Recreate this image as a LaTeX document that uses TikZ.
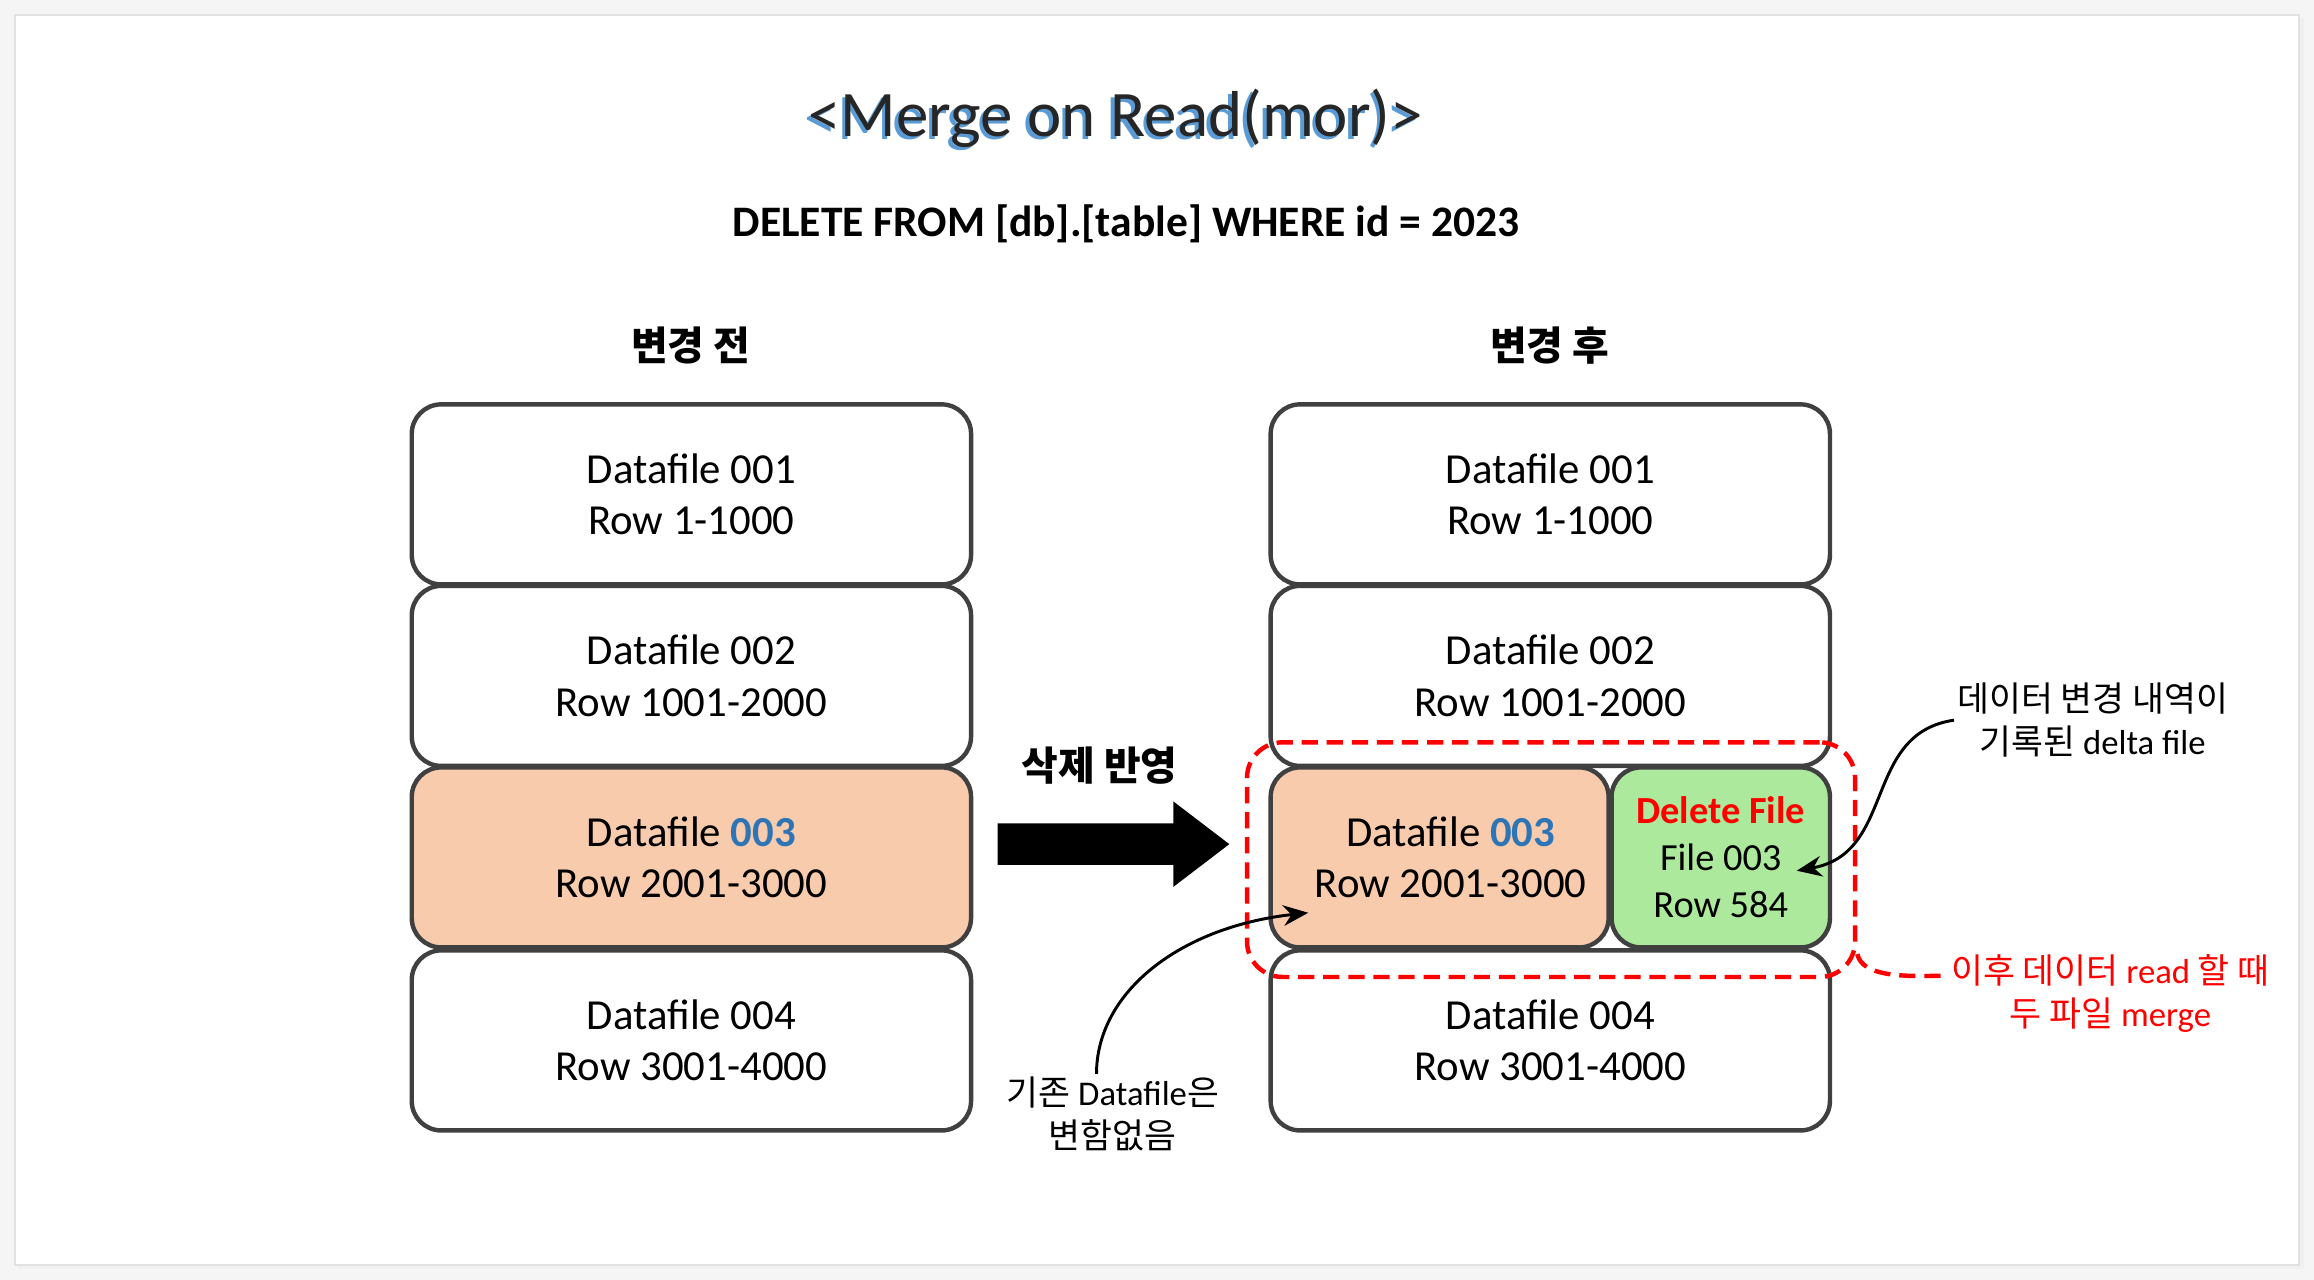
\documentclass[tikz,border=0pt]{standalone}
\usepackage{fontspec}
\setmainfont{Carlito}
\newfontfamily\kr{Noto Sans CJK KR}
\usetikzlibrary{arrows.meta}
\definecolor{boxgray}{HTML}{404040}
\definecolor{peach}{HTML}{F8CBAD}
\definecolor{dgreen}{HTML}{ADE99C}
\definecolor{fblue}{HTML}{2E75B6}
\definecolor{tshadow}{HTML}{5B9BD5}
\definecolor{titlegray}{HTML}{262626}
\definecolor{bgout}{HTML}{F5F5F5}
\definecolor{frameline}{HTML}{E2E2E2}
\begin{document}
\begin{tikzpicture}[x=1pt,y=-1pt,
  dbox/.style={draw=boxgray,line width=3pt,rounded corners=20pt,minimum width=379pt,minimum height=122pt,inner sep=0pt,align=center,font=\fontsize{29}{35}\selectfont},
  boxtext/.style={align=center,inner sep=0pt,font=\fontsize{29}{35}\selectfont},
  head/.style={font=\kr\bfseries\fontsize{27}{30}\selectfont},
  note/.style={align=center,inner sep=2pt,font=\fontsize{23.5}{29}\selectfont},
  conn/.style={line width=2pt,-{Stealth[length=17pt,width=14pt]}},
  titlefont/.style={font=\fontsize{44}{50}\selectfont}]
\fill[bgout] (0,0) rectangle (1568,867);
\useasboundingbox (0,0) rectangle (1568,867);
\fill[black!6] (12,12) rectangle (1561,860);
\filldraw[fill=white,draw=frameline,line width=1.2pt] (10,10) rectangle (1558,857);
% title
\node[titlefont,text=tshadow] at (753.5,82) {<Merge on Read(mor)>};
\node (title) [titlefont,text=titlegray] at (756,80) {<Merge on Read(mor)>};
\node (sql) [font=\bfseries\fontsize{29.5}{35}\selectfont] at (763,152) {DELETE FROM [db].[table] WHERE id = 2023};
\node (hl) [head] at (468,234) {변경 전};
\node (hr) [head] at (1050,234) {변경 후};
% left stack
\node (L1) [dbox,fill=white] at (468.5,335) {Datafile 001\\Row 1-1000};
\node (L2) [dbox,fill=white] at (468.5,458) {Datafile 002\\Row 1001-2000};
\node (L3) [dbox,fill=peach] at (468.5,581) {Datafile {\bfseries\color{fblue}003}\\Row 2001-3000};
\node (L4) [dbox,fill=white] at (468.5,705) {Datafile 004\\Row 3001-4000};
% right stack
\node (R1) [dbox,fill=white] at (1050.5,335) {Datafile 001\\Row 1-1000};
\node (R2) [dbox,fill=white] at (1050.5,458) {Datafile 002\\Row 1001-2000};
\node (R3) [dbox,fill=peach,minimum width=229pt] at (975.5,581) {};
\node (R3t) [boxtext] at (983,581) {Datafile {\bfseries\color{fblue}003}\\Row 2001-3000};
\node (GR) [dbox,fill=dgreen,minimum width=148pt,font=\fontsize{26}{32}\selectfont] at (1166,581) {{\bfseries\color{red}Delete File}\\File 003\\Row 584};
\node (R4) [dbox,fill=white] at (1050.5,705) {Datafile 004\\Row 3001-4000};
% dashed group
\node (grp) [draw=red,line width=3pt,dash pattern=on 11pt off 6pt,rounded corners=24pt,minimum width=412pt,minimum height=159pt,inner sep=0pt] at (1051,582.5) {};
% big arrow
\fill[black] (676,558) -- (795,558) -- (795,543) -- (833,572) -- (795,601) -- (795,586) -- (676,586) -- cycle;
\node (apply) [head] at (745,519) {삭제 반영};
% notes
\node (delta) [note] at (1418,488) {{\kr 데이터 변경 내역이}\\{\kr 기록된} delta file};
\node (merge) [note,text=red] at (1430,673) {{\kr 이후 데이터} read {\kr 할 때}\\{\kr 두 파일} merge};
\node (keep) [note] at (754,755) {{\kr 기존} Datafile{\kr 은}\\{\kr 변함없음}};
% connectors
\draw[conn] (delta.west) .. controls (1262,497) and (1285,578) .. ([shift={(-24pt,-9pt)}]GR.east);
\draw[conn] ([xshift=-11pt]keep.north) .. controls (743,672) and (800,628) .. ([shift={(27pt,25pt)}]R3.south west);
\draw[red,line width=3pt,dash pattern=on 11pt off 6pt] ([yshift=17pt]grp.south east) .. controls (1262,662) and (1290,662) .. ([yshift=12pt]merge.west);
\end{tikzpicture}
\end{document}
